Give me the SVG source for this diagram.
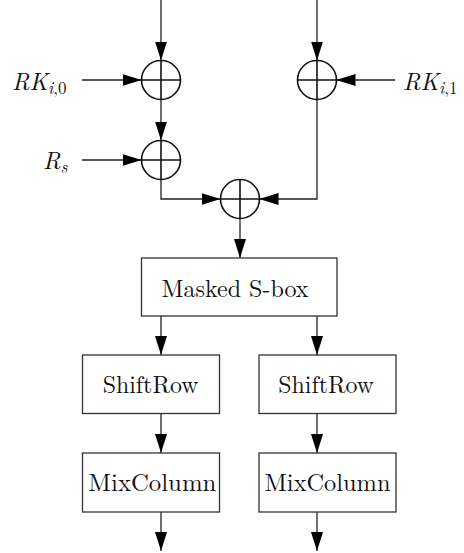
<svg xmlns="http://www.w3.org/2000/svg" width="464" height="553" viewBox="0 0 464 553">
<defs>
<marker id="ah" markerUnits="userSpaceOnUse" markerWidth="19" markerHeight="12" refX="19" refY="6" orient="auto">
<path d="M0,0 L19,6 L0,12 z" fill="#000"/>
</marker>
<style>
.wire{fill:none;stroke:#222;stroke-width:1.3;marker-end:url(#ah)}
.xor circle{fill:#fff;stroke:#111;stroke-width:1.6}
.xor line{stroke:#111;stroke-width:1.6}
.box rect{fill:#fff;stroke:#333;stroke-width:1.3}
.lbl{fill:#111}
.m{font-style:italic}
</style>
</defs>
<g id="connectors">
<path class="wire" d="M161,0 V60.5"/>
<path class="wire" d="M82,80 H141.5"/>
<path class="wire" d="M161,99.5 V140.5"/>
<path class="wire" d="M82,160 H141.5"/>
<path class="wire" d="M161,179.5 V199 H220.5"/>
<path class="wire" d="M317,0 V60.5"/>
<path class="wire" d="M395,80 H336.5"/>
<path class="wire" d="M317,99.5 V199 H259.5"/>
<path class="wire" d="M240,218.5 V258"/>
<path class="wire" d="M161,316 V355"/>
<path class="wire" d="M317,316 V355"/>
<path class="wire" d="M161,413.5 V453"/>
<path class="wire" d="M317,413.5 V453"/>
<path class="wire" d="M161,512 V551"/>
<path class="wire" d="M317,512 V551"/>
</g>
<g id="xor1" class="xor"><circle cx="161" cy="80" r="19.5"/><line x1="141.5" y1="80" x2="180.5" y2="80"/><line x1="161" y1="60.5" x2="161" y2="99.5"/></g>
<g id="xor2" class="xor"><circle cx="161" cy="160" r="19.5"/><line x1="141.5" y1="160" x2="180.5" y2="160"/><line x1="161" y1="140.5" x2="161" y2="179.5"/></g>
<g id="xor3" class="xor"><circle cx="240" cy="199" r="19.5"/><line x1="220.5" y1="199" x2="259.5" y2="199"/><line x1="240" y1="179.5" x2="240" y2="218.5"/></g>
<g id="xor4" class="xor"><circle cx="317" cy="80" r="19.5"/><line x1="297.5" y1="80" x2="336.5" y2="80"/><line x1="317" y1="60.5" x2="317" y2="99.5"/></g>
<g id="lbl-rk0"><text class="lbl" x="12" y="89.5" font-family="Latin Modern Roman, Liberation Serif, serif" font-size="24"><tspan class="m">RK</tspan><tspan font-size="17" dy="4"><tspan class="m">i</tspan>,0</tspan></text></g>
<g id="lbl-rs"><text class="lbl" x="43" y="169" font-family="Latin Modern Roman, Liberation Serif, serif" font-size="24"><tspan class="m">R</tspan><tspan class="m" font-size="17" dy="4">s</tspan></text></g>
<g id="lbl-rk1"><text class="lbl" x="403" y="89.5" font-family="Latin Modern Roman, Liberation Serif, serif" font-size="24"><tspan class="m">RK</tspan><tspan font-size="17" dy="4"><tspan class="m">i</tspan>,1</tspan></text></g>
<g id="sbox" class="box"><rect x="141.5" y="258" width="195.5" height="58"/><text class="lbl" x="161.5" y="296.5" font-family="Latin Modern Roman, Liberation Serif, serif" font-size="24" textLength="147" lengthAdjust="spacingAndGlyphs">Masked S-box</text></g>
<g id="shiftrow-l" class="box"><rect x="82.5" y="355" width="137" height="58.5"/><text class="lbl" x="102.7" y="393.3" font-family="Latin Modern Roman, Liberation Serif, serif" font-size="24" textLength="95.7" lengthAdjust="spacingAndGlyphs">ShiftRow</text></g>
<g id="shiftrow-r" class="box"><rect x="259" y="355" width="137" height="58.5"/><text class="lbl" x="278.3" y="393.3" font-family="Latin Modern Roman, Liberation Serif, serif" font-size="24" textLength="95.7" lengthAdjust="spacingAndGlyphs">ShiftRow</text></g>
<g id="mixcol-l" class="box"><rect x="82.5" y="453" width="137" height="59"/><text class="lbl" x="88.3" y="490.7" font-family="Latin Modern Roman, Liberation Serif, serif" font-size="24" textLength="128" lengthAdjust="spacingAndGlyphs">MixColumn</text></g>
<g id="mixcol-r" class="box"><rect x="259" y="453" width="137" height="59"/><text class="lbl" x="264.5" y="490.7" font-family="Latin Modern Roman, Liberation Serif, serif" font-size="24" textLength="126" lengthAdjust="spacingAndGlyphs">MixColumn</text></g>
</svg>
